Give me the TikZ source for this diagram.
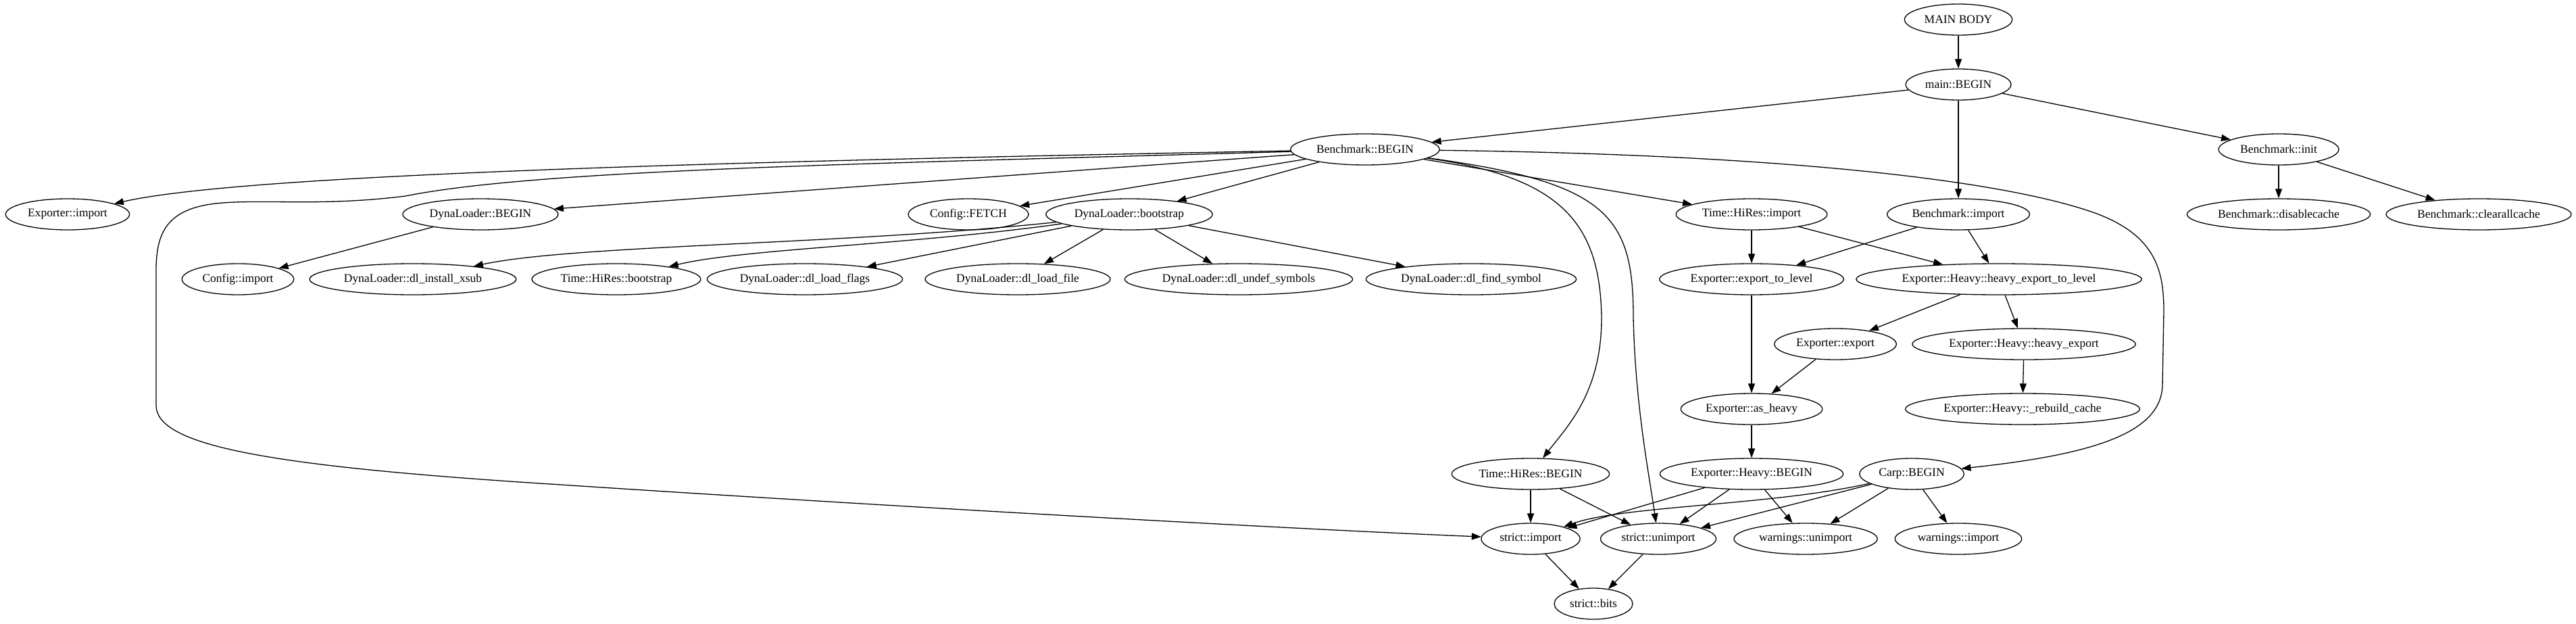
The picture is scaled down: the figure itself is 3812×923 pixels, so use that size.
\documentclass[tikz,border=0pt]{standalone}
\usepackage{fontspec}
\setmainfont{Liberation Serif}
\usepackage{tikz}
\usetikzlibrary{arrows.meta,shapes.geometric}

\begin{document}
\begin{tikzpicture}[
  x=1pt, y=-1pt,
  every node/.style={font=\fontsize{17.5}{20}\selectfont},
  fn/.style={ellipse, draw, line width=1.3pt,
             minimum height=46pt, inner xsep=6pt, inner ysep=2pt},
  callarrow/.style={-{Triangle[length=14pt,width=10pt]}, line width=1.3pt}
]
\useasboundingbox (0,0) rectangle (3812,923);

\node[fn] (mainbody)   at (2898,29)  {MAIN BODY};
\node[fn] (mainbegin)  at (2898,125) {main::BEGIN};
\node[fn] (bmbegin)    at (2020,221) {Benchmark::BEGIN};
\node[fn] (bminit)     at (3372,221) {Benchmark::init};
\node[fn] (expimport)  at (100,317)  {Exporter::import};
\node[fn] (dlbegin)    at (711,317)  {DynaLoader::BEGIN};
\node[fn] (cfgfetch)   at (1433,317) {Config::FETCH};
\node[fn] (dlboot)     at (1671,317) {DynaLoader::bootstrap};
\node[fn] (hrimport)   at (2592,317) {Time::HiRes::import};
\node[fn] (bmimport)   at (2898,317) {Benchmark::import};
\node[fn] (bmdisable)  at (3372,317) {Benchmark::disablecache};
\node[fn] (bmclear)    at (3668,317) {Benchmark::clearallcache};
\node[fn] (cfgimport)  at (352,413)  {Config::import};
\node[fn] (dlxsub)     at (611,413)  {DynaLoader::dl\_install\_xsub};
\node[fn] (hrboot)     at (912,413)  {Time::HiRes::bootstrap};
\node[fn] (dlflags)    at (1191,413) {DynaLoader::dl\_load\_flags};
\node[fn] (dlfile)     at (1506,413) {DynaLoader::dl\_load\_file};
\node[fn] (dlundef)    at (1833,413) {DynaLoader::dl\_undef\_symbols};
\node[fn] (dlfind)     at (2177,413) {DynaLoader::dl\_find\_symbol};
\node[fn] (exptolevel) at (2592,413) {Exporter::export\_to\_level};
\node[fn] (hvtolevel)  at (2958,413) {Exporter::Heavy::heavy\_export\_to\_level};
\node[fn] (expexport)  at (2716,509) {Exporter::export};
\node[fn] (hvexport)   at (2995,509) {Exporter::Heavy::heavy\_export};
\node[fn] (asheavy)    at (2592,605) {Exporter::as\_heavy};
\node[fn] (rebuild)    at (2993,605) {Exporter::Heavy::\_rebuild\_cache};
\node[fn] (hrbegin)    at (2265,701) {Time::HiRes::BEGIN};
\node[fn] (hvbegin)    at (2592,701) {Exporter::Heavy::BEGIN};
\node[fn] (carpbegin)  at (2829,701) {Carp::BEGIN};
\node[fn] (strimp)     at (2265,797) {strict::import};
\node[fn] (strunimp)   at (2454,797) {strict::unimport};
\node[fn] (warnunimp)  at (2672,797) {warnings::unimport};
\node[fn] (warnimp)    at (2898,797) {warnings::import};
\node[fn] (strbits)    at (2358,893) {strict::bits};

% top levels
\draw[callarrow] (mainbody)  -- (mainbegin);
\draw[callarrow] (mainbegin) -- (bmbegin);
\draw[callarrow] (mainbegin) -- (bmimport);
\draw[callarrow] (mainbegin) -- (bminit);
\draw[callarrow] (bminit)    -- (bmdisable);
\draw[callarrow] (bminit)    -- (bmclear);

% Benchmark::BEGIN
\draw[callarrow] (bmbegin) -- (dlbegin);
\draw[callarrow] (bmbegin) -- (cfgfetch);
\draw[callarrow] (bmbegin) -- (dlboot);
\draw[callarrow] (bmbegin) -- (hrimport);
\draw[callarrow] (bmbegin) .. controls (1000,240) and (350,260) .. (expimport);
\draw[callarrow] (bmbegin) .. controls (1300,242) and (800,250) .. (600,290)
  .. controls (480,305) and (400,295) .. (330,300)
  .. controls (250,306) and (231,340) .. (231,400) -- (231,600)
  .. controls (232,660) and (400,690) .. (830,717)
  .. controls (1300,748) and (1900,782) .. (strimp);
\draw[callarrow] (bmbegin) .. controls (2310,262) and (2368,330) .. (2370,470)
  .. controls (2370,580) and (2320,630) .. (hrbegin);
\draw[callarrow] (bmbegin) .. controls (2380,270) and (2417,320) .. (2417,470)
  .. controls (2420,600) and (2440,700) .. (strunimp);
\draw[callarrow] (bmbegin) .. controls (2600,228) and (2950,262) .. (3100,315)
  .. controls (3190,348) and (3202,400) .. (3202,460) -- (3200,570)
  .. controls (3198,640) and (3100,672) .. (carpbegin);

% DynaLoader
\draw[callarrow] (dlbegin) -- (cfgimport);
\draw[callarrow] (dlboot) .. controls (1250,362) and (850,362) .. (dlxsub);
\draw[callarrow] (dlboot) .. controls (1350,362) and (1100,368) .. (hrboot);
\draw[callarrow] (dlboot) -- (dlflags);
\draw[callarrow] (dlboot) -- (dlfile);
\draw[callarrow] (dlboot) -- (dlundef);
\draw[callarrow] (dlboot) -- (dlfind);

% Exporter
\draw[callarrow] (hrimport)   -- (exptolevel);
\draw[callarrow] (hrimport)   -- (hvtolevel);
\draw[callarrow] (bmimport)   -- (exptolevel);
\draw[callarrow] (bmimport)   -- (hvtolevel);
\draw[callarrow] (exptolevel) -- (asheavy);
\draw[callarrow] (hvtolevel)  -- (expexport);
\draw[callarrow] (hvtolevel)  -- (hvexport);
\draw[callarrow] (expexport)  -- (asheavy);
\draw[callarrow] (hvexport)   -- (rebuild);
\draw[callarrow] (asheavy)    -- (hvbegin);

% strict / warnings
\draw[callarrow] (hrbegin)   -- (strimp);
\draw[callarrow] (hrbegin)   -- (strunimp);
\draw[callarrow] (hvbegin)   -- (strimp);
\draw[callarrow] (hvbegin)   -- (strunimp);
\draw[callarrow] (hvbegin)   -- (warnunimp);
\draw[callarrow] (carpbegin) .. controls (2620,748) and (2400,748) .. (strimp);
\draw[callarrow] (carpbegin) -- (strunimp);
\draw[callarrow] (carpbegin) -- (warnunimp);
\draw[callarrow] (carpbegin) -- (warnimp);
\draw[callarrow] (strimp)    -- (strbits);
\draw[callarrow] (strunimp)  -- (strbits);

\end{tikzpicture}
\end{document}
